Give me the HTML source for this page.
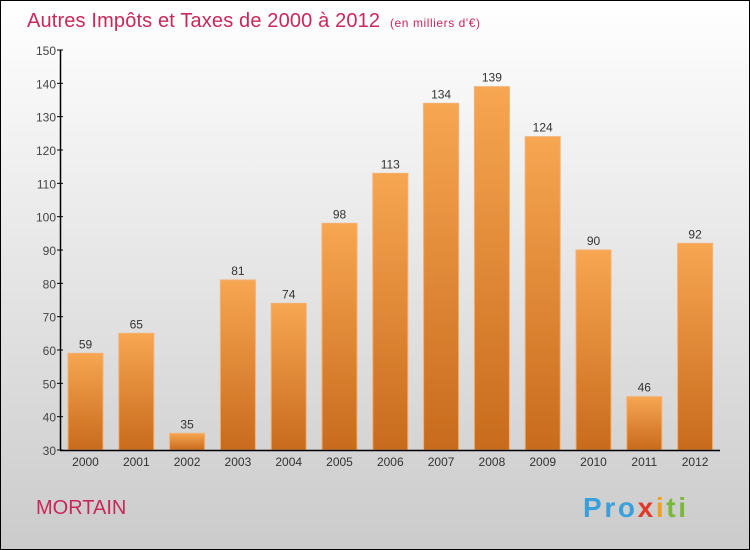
<!DOCTYPE html>
<html><head><meta charset="utf-8"><style>
body{margin:0;}
svg{display:block;font-family:"Liberation Sans",sans-serif;}
</style></head><body>
<svg id="c" width="750" height="550" xmlns="http://www.w3.org/2000/svg">
<defs>
<linearGradient id="bg" x1="0" y1="0" x2="0" y2="1"><stop offset="0" stop-color="#ffffff"/><stop offset="1" stop-color="#cbcbcb"/></linearGradient>
<linearGradient id="bar" x1="0" y1="0" x2="0" y2="1"><stop offset="0" stop-color="#f7a652"/><stop offset="1" stop-color="#c86b1c"/></linearGradient>
</defs>
<rect x="0.5" y="0.5" width="749" height="549" fill="url(#bg)" stroke="#000"/>
<text x="27" y="27" font-size="20" fill="#c8285a" textLength="353">Autres Impôts et Taxes de 2000 à 2012</text>
<text x="390" y="27" font-size="12" fill="#c8285a" textLength="90">(en milliers d'€)</text>
<text x="36" y="514" font-size="20" fill="#c8285a">MORTAIN</text>
<text x="583" y="517" font-size="28" font-weight="bold" textLength="103"><tspan fill="#3aa0dc">Pro</tspan><tspan fill="#e23a2a">x</tspan><tspan fill="#f0a020">i</tspan><tspan fill="#7bb83a">ti</tspan></text>
<g id="bars"></g>
<g id="axes"></g>
</svg>
<script>
const categories=["2000","2001","2002","2003","2004","2005","2006","2007","2008","2009","2010","2011","2012"];
const values=[59,65,35,81,74,98,113,134,139,124,90,46,92];
const yTicks=[30,40,50,60,70,80,90,100,110,120,130,140,150];
const NS="http://www.w3.org/2000/svg";
const y=v=>450-(v-30)*400/120;
const x=i=>85.5+i*50.8;
const bars=document.getElementById('bars'),axes=document.getElementById('axes');
function mk(t,a,p){const e=document.createElementNS(NS,t);for(const k in a)e.setAttribute(k,a[k]);p.appendChild(e);return e;}
values.forEach((v,i)=>{
 const r=mk('rect',{x:x(i)-17.5,y:y(v),width:35,height:450-y(v),fill:'url(#bar)',stroke:'#f5b070','stroke-width':1},bars);
 
 
 const t=mk('text',{x:x(i),y:y(v)-5,'font-size':12,'text-anchor':'middle',fill:'#333'},bars);t.textContent=v;
 
 
 const c=mk('text',{x:x(i),y:466,'font-size':12,'text-anchor':'middle',fill:'#333'},axes);c.textContent=categories[i];
 
 
});
yTicks.forEach(v=>{
 mk('line',{x1:57,x2:63,y1:y(v),y2:y(v),stroke:'#000'},axes);
 const t=mk('text',{x:56,y:y(v)+5,'font-size':12,'text-anchor':'end',fill:'#444'},axes);t.textContent=v;
 
 
});
const ya=mk('line',{x1:60.5,x2:60.5,y1:50,y2:450.5,stroke:'#000','stroke-width':1.5},axes);


const xa=mk('line',{x1:60,x2:720,y1:450.5,y2:450.5,stroke:'#000','stroke-width':1.5},axes);


</script>
</body></html>
